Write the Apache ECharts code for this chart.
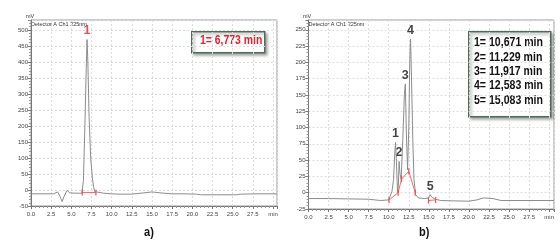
<!DOCTYPE html>
<html>
<head>
<meta charset="utf-8">
<script src="https://cdn.jsdelivr.net/npm/echarts@6/dist/echarts.min.js"></script>
<style>
  html, body { margin: 0; padding: 0; background: #fff; }
  #chart { width: 560px; height: 247px; }
</style>
</head>
<body>
<div id="chart"></div>
<script>
// chromatogram a) - retention time (min) / signal (mV)
var timeA = [0, 1, 2, 2.8, 3.3, 3.6, 3.86, 4.1, 4.47, 4.8, 5.5, 6.0, 6.3, 6.5, 6.7, 6.85, 6.95, 7.05, 7.2, 7.4, 7.6, 7.75, 7.9, 8.1, 9, 10, 11, 12.5, 14, 15, 16, 17.5, 19, 20.5, 21, 23, 25.5, 26, 28, 30.5];
var mvA = [-12, -12, -12, -12, -6, -20, -36, -20, -1, -9, -10, -10, -10, 30, 220, 380, 470, 400, 230, 100, 40, 10, -5, -9, -10, -12, -13, -13, -9, -6, -9, -12, -12, -13, -15, -15, -15, -13, -12, -12];
var baseTimeA = [6.36, 8.05];
var baseMvA = [-8, -8];
var peakTimeA = [6.95];
var peakMvA = [470];
var peakNameA = ['1'];
var resultA = ['1= 6,773 min'];

// chromatogram b)
var timeB = [0, 2.5, 5, 7.5, 9, 10.0, 10.2, 10.4, 10.6, 10.75, 10.85, 10.95, 11.1, 11.2, 11.29, 11.4, 11.55, 11.75, 11.95, 12.07, 12.2, 12.35, 12.5, 12.62, 12.72, 12.85, 13.0, 13.15, 13.35, 13.7, 14.5, 14.95, 15.16, 15.4, 15.8, 16.5, 18, 20, 21, 21.8, 23, 24, 30.6];
var mvB = [-9, -9, -9.5, -10, -12, -11, -8, 2, 20, 60, 77, 50, 0, 10, 48, 30, 20, 80, 150, 167, 90, 35, 100, 200, 236, 170, 80, 20, -3, -8, -9, -8, -3, -7, -10, -12, -12.5, -13, -11, -8, -9, -12, -12];
var baseTimeB = [10.04, 11.17, 11.6, 12.5, 13.3, null, 14.95, 15.85];
var baseMvB = [-11, 0, 21, 33, 0, null, -12, -11];
var peakTimeB = [10.85, 11.29, 12.07, 12.72, 15.16];
var peakMvB = [77, 48, 167, 236, -3];
var peakNameB = ['1', '2', '3', '4', '5'];
var resultB = ['1= 10,671 min', '2= 11,229 min', '3= 11,917 min', '4= 12,583 min', '5= 15,083 min'];

function zip(xs, ys) {
    return xs.map(function (x, i) {
        return x === null ? '-' : [x, ys[i]];
    });
}

var tinyFont = 'Liberation Sans, sans-serif';
var boldFont = 'Liberation Sans, Arial, sans-serif';

function xAxisOf(idx, max) {
    return {
        type: 'value', gridIndex: idx, min: 0, max: max, interval: 2.5,
        axisLine: { onZero: false, lineStyle: { color: '#777', width: 1 } },
        axisTick: { length: 3, lineStyle: { color: '#777' } },
        minorTick: { show: true, splitNumber: 5, length: 2, lineStyle: { color: '#999' } },
        axisLabel: {
            fontSize: 6, color: '#444', fontFamily: tinyFont, margin: 5, showMaxLabel: false,
            formatter: function (v) { return v === 30 ? 'min' : v.toFixed(1); }
        },
        splitLine: { show: true, lineStyle: { color: '#dcdcdc', type: [2, 2] } }
    };
}

function yAxisOf(idx, min, max, step) {
    return {
        type: 'value', gridIndex: idx, min: min, max: max, interval: step,
        axisLine: { show: true, lineStyle: { color: '#777', width: 1 } },
        axisTick: { show: true, length: 3, lineStyle: { color: '#777' } },
        minorTick: { show: true, splitNumber: 5, length: 2, lineStyle: { color: '#999' } },
        axisLabel: { fontSize: 6, color: '#444', fontFamily: tinyFont, margin: 3, showMaxLabel: false },
        splitLine: { show: true, lineStyle: { color: '#dcdcdc', type: [2, 2] } }
    };
}

function traceSeries(idx, data) {
    return {
        type: 'line', xAxisIndex: idx, yAxisIndex: idx, data: data,
        showSymbol: false, silent: true, animation: false,
        lineStyle: { color: '#8c8c8c', width: 1 }
    };
}

function baseSeries(idx, data) {
    return {
        type: 'line', xAxisIndex: idx, yAxisIndex: idx, data: data,
        symbol: 'rect', symbolSize: [1.2, 6], showSymbol: true, connectNulls: false, animation: false,
        itemStyle: { color: '#f05050' },
        lineStyle: { color: '#f26a6a', width: 1 }
    };
}

function labelSeries(idx, data, names, color) {
    return {
        type: 'scatter', xAxisIndex: idx, yAxisIndex: idx, symbolSize: 0, animation: false,
        data: data,
        label: {
            show: true, position: 'top', distance: 2,
            fontSize: 12.5, fontWeight: 'bold', fontFamily: boldFont, color: color,
            formatter: function (p) { return names[p.dataIndex]; }
        }
    };
}

// condensed bold text (no narrow font installed, so squeeze horizontally)
function narrowText(x, y, str, size, color, sx) {
    return {
        type: 'text', x: x, y: y, scaleX: sx,
        style: { text: str, font: 'bold ' + size + 'px ' + boldFont, fill: color }
    };
}

var chart = echarts.init(document.getElementById('chart'), null, { renderer: 'canvas' });

var boxTextB = resultB.map(function (s, i) {
    return narrowText(474, 37 + i * 14.3, s, 12, '#111', 0.88);
});

var option = {
    backgroundColor: '#fff',
    animation: false,
    grid: [
        { left: 31, top: 20, width: 246, height: 186, show: true, borderColor: '#999', borderWidth: 1 },
        { left: 308.5, top: 20, width: 245.5, height: 189, show: true, borderColor: '#999', borderWidth: 1 }
    ],
    xAxis: [xAxisOf(0, 30.5), xAxisOf(1, 30.6)],
    yAxis: [yAxisOf(0, -50, 531, 50), yAxisOf(1, -25, 265, 25)],
    series: [
        traceSeries(0, zip(timeA, mvA)),
        baseSeries(0, zip(baseTimeA, baseMvA)),
        labelSeries(0, zip(peakTimeA, peakMvA), peakNameA, '#e8202a'),
        traceSeries(1, zip(timeB, mvB)),
        baseSeries(1, zip(baseTimeB, baseMvB)),
        labelSeries(1, zip(peakTimeB, peakMvB), peakNameB, '#111')
    ],
    graphic: [
        { type: 'text', left: 26, top: 13, style: { text: 'mV', font: '5.5px ' + tinyFont, fill: '#333' } },
        { type: 'text', left: 31, top: 21, style: { text: 'Detector A Ch1 225nm', font: '5.5px ' + tinyFont, fill: '#333' } },
        { type: 'text', left: 303, top: 13, style: { text: 'mV', font: '5.5px ' + tinyFont, fill: '#333' } },
        { type: 'text', left: 308.5, top: 21, style: { text: 'Detector A Ch1 225nm', font: '5.5px ' + tinyFont, fill: '#333' } },
        {
            type: 'rect', left: 191, top: 31, shape: { width: 73, height: 21 },
            style: { fill: '#fff', stroke: '#4f6b55', lineWidth: 1.5, shadowBlur: 3, shadowOffsetX: 2, shadowOffsetY: 2, shadowColor: 'rgba(0,0,0,0.35)' }
        },
        narrowText(200, 35, resultA[0], 12, '#e8202a', 0.87),
        {
            type: 'rect', left: 468, top: 31, shape: { width: 82, height: 85 },
            style: { fill: '#fff', stroke: '#4f6b55', lineWidth: 1.5, shadowBlur: 3, shadowOffsetX: 2, shadowOffsetY: 2, shadowColor: 'rgba(0,0,0,0.35)' }
        },
        narrowText(144, 226, 'a)', 13, '#111', 0.85),
        narrowText(419, 226, 'b)', 13, '#111', 0.85)
    ].concat(boxTextB)
};

chart.setOption(option);
</script>
</body>
</html>
